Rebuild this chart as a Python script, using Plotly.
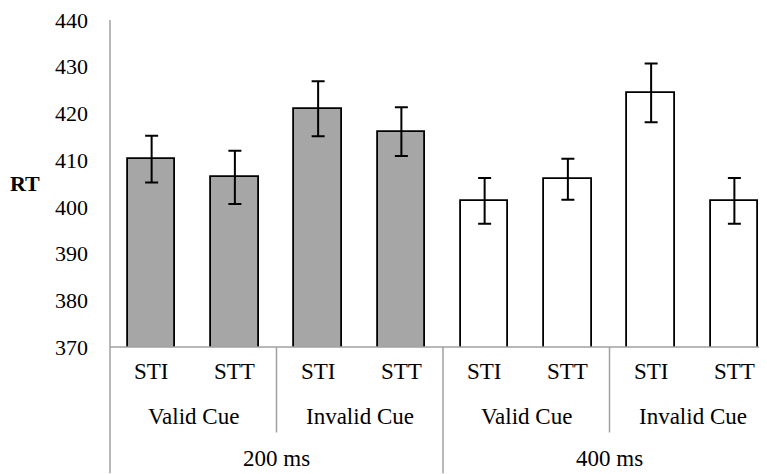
import plotly.graph_objects as go

# ---- data ----
soa_labels = ["200 ms", "400 ms"]
cue_labels = ["Valid Cue", "Invalid Cue"]
target_labels = ["STI", "STT"]
rt_values = [410.2, 406.3, 421.0, 416.1, 401.3, 405.9, 424.4, 401.3]
rt_errors = [5.0, 5.7, 5.9, 5.2, 4.9, 4.4, 6.3, 4.9]
y_ticks = [370, 380, 390, 400, 410, 420, 430, 440]

# ---- layout constants ----
OFF = 8  # page body margin
W, H = 767 - OFF, 474 - OFF
ML, MT, MB, MR = 110 - OFF, 18 - OFF, 127, 0
plot_h = H - MT - MB
n = len(rt_values)
xs = list(range(n))
cat_w_px = 83.25
x_hi = -0.5 + (W - ML - MR) / cat_w_px

FONT = "Liberation Serif, Times New Roman, serif"
AXIS_GRAY = "#a0a0a0"
soa_fill = ["#a6a6a6", "#ffffff"]

def py(pix):  # image pixel y -> paper y
    return -((pix - OFF) - (H - MB)) / plot_h

bottom = py(474)

n_t = len(target_labels)
n_c = len(cue_labels)
fills = [soa_fill[i // (n_t * n_c)] for i in xs]

fig = go.Figure(go.Bar(
    x=xs, y=rt_values, width=0.57,
    marker=dict(color=fills, line=dict(color="black", width=1.8)),
    error_y=dict(type="data", array=rt_errors, visible=True,
                 color="black", thickness=2, width=6.5),
    showlegend=False,
))

shapes = []
shapes.append(dict(type="line", xref="paper", yref="paper", x0=0, x1=0,
                   y0=1, y1=bottom, line=dict(color=AXIS_GRAY, width=1.5)))
shapes.append(dict(type="line", xref="paper", yref="paper", x0=0, x1=1,
                   y0=0, y1=0, line=dict(color=AXIS_GRAY, width=1.5)))
for g in range(len(soa_labels)):
    xsep = g * n_t * n_c + n_t - 0.5
    shapes.append(dict(type="line", xref="x", yref="paper", x0=xsep, x1=xsep,
                       y0=0, y1=py(433), line=dict(color=AXIS_GRAY, width=1.5)))
for g in range(1, len(soa_labels)):
    xsep = g * n_t * n_c - 0.5
    shapes.append(dict(type="line", xref="x", yref="paper", x0=xsep, x1=xsep,
                       y0=0, y1=bottom, line=dict(color=AXIS_GRAY, width=1.5)))

ann = []
lab_font = dict(family=FONT, size=23, color="black")
for i in xs:
    ann.append(dict(x=i, y=py(372), xref="x", yref="paper", text=target_labels[i % n_t],
                    showarrow=False, font=lab_font, xanchor="center", yanchor="middle"))
for j in range(len(soa_labels) * n_c):
    xc = j * n_t + (n_t - 1) / 2
    ann.append(dict(x=xc, y=py(417), xref="x", yref="paper", text=cue_labels[j % n_c],
                    showarrow=False, font=lab_font, xanchor="center", yanchor="middle"))
for g in range(len(soa_labels)):
    xc = g * n_t * n_c + (n_t * n_c - 1) / 2
    ann.append(dict(x=xc, y=py(459), xref="x", yref="paper", text=soa_labels[g],
                    showarrow=False, font=lab_font, xanchor="center", yanchor="middle"))
ann.append(dict(x=0, y=0.5, xref="paper", yref="paper", text="<b>RT</b>", xshift=-85,
                showarrow=False, font=dict(family=FONT, size=22, color="black"),
                xanchor="center", yanchor="middle"))

fig.update_layout(
    width=W, height=H,
    margin=dict(l=ML, r=MR, t=MT, b=MB, pad=0),
    paper_bgcolor="white", plot_bgcolor="white",
    shapes=shapes, annotations=ann,
    xaxis=dict(range=[-0.5, x_hi], showticklabels=False, showgrid=False,
               zeroline=False, showline=False, ticks=""),
    yaxis=dict(range=[370, 440], tickvals=y_ticks, showgrid=False, zeroline=False,
               showline=False, ticks="", ticklabelstandoff=21,
               ticklabeloverflow="allow",
               tickfont=dict(family=FONT, size=22, color="black")),
    bargap=0,
)

fig.write_html("out.html")
